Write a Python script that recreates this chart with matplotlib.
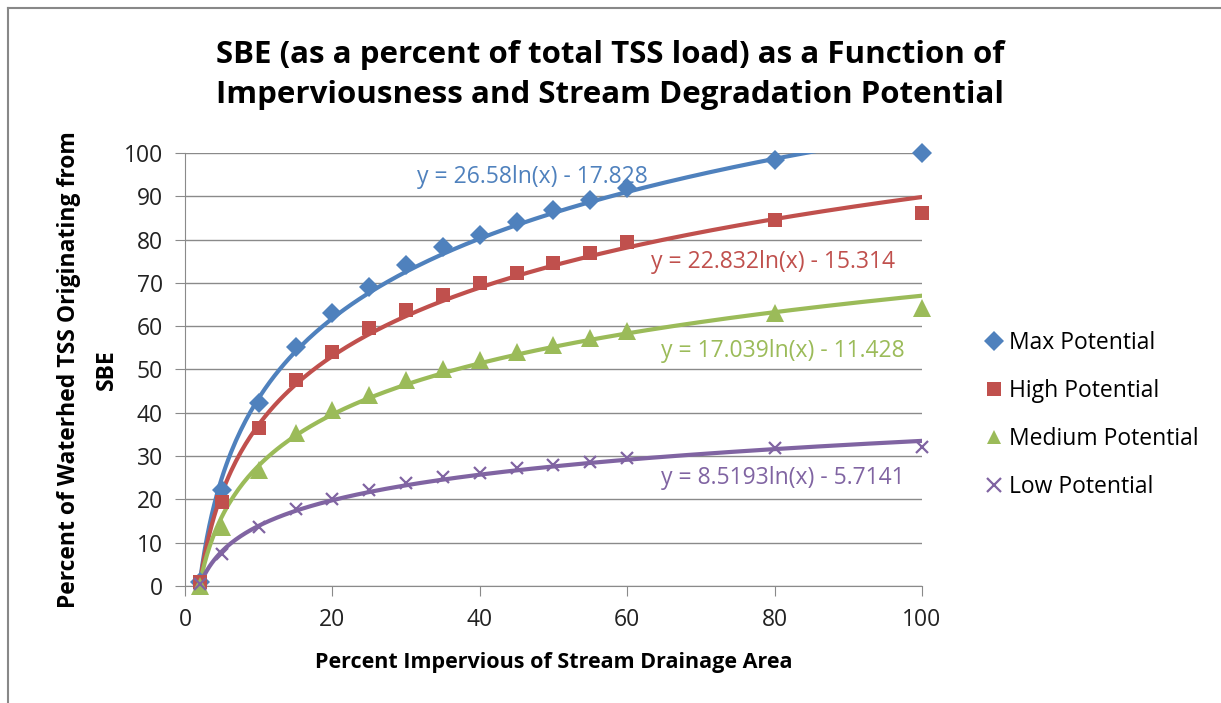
import numpy as np
import matplotlib
matplotlib.use("Agg")
import matplotlib.pyplot as plt
from matplotlib.lines import Line2D

plt.rcParams['font.family'] = ['Open Sans', 'DejaVu Sans']

# percent impervious
x = [2, 5, 10, 15, 20, 25, 30, 35, 40, 45, 50, 55, 60, 80, 100]
max_pot = [1, 22.2, 42.2, 55.3, 63, 69.1, 74.1, 78.2, 81.1, 84.1, 86.8, 89.1, 91.8, 98.4, 100]
high_pot = [1, 19.5, 36.4, 47.6, 54.1, 59.5, 63.7, 67.2, 69.9, 72.2, 74.5, 76.8, 79.5, 84.5, 86.1]
med_pot = [0, 13.7, 26.8, 35.3, 40.6, 44.1, 47.6, 50, 52.2, 54.1, 55.7, 57.2, 58.9, 63, 64.3]
low_pot = [0.5, 7.5, 13.7, 17.9, 20.2, 22.2, 23.7, 25.2, 26, 27.2, 27.9, 28.7, 29.6, 31.8, 32.2]

names = ["Max Potential", "High Potential", "Medium Potential", "Low Potential"]
# trendline coefficients y = a*ln(x) + b, as printed on chart
coef_a = [26.58, 22.832, 17.039, 8.5193]
coef_b = [-17.828, -15.314, -11.428, -5.7141]
eq_text = ["y = 26.58ln(x) - 17.828", "y = 22.832ln(x) - 15.314",
           "y = 17.039ln(x) - 11.428", "y = 8.5193ln(x) - 5.7141"]

colors = ["#4F81BD", "#C0504D", "#9BBB59", "#8064A2"]
markers = ["D", "s", "^", "x"]
msizes = [10.5, 10.5, 12.5, 9]

fig = plt.figure(figsize=(12.21, 7.03), dpi=100)
ax = fig.add_axes([0.1515, 0.1664, 0.6036, 0.616])

xs = np.linspace(2, 100, 300)
series = [max_pot, high_pot, med_pot, low_pot]
for i in range(4):
    ax.plot(xs, coef_a[i] * np.log(xs) + coef_b[i], color=colors[i], lw=3, zorder=3)
    ax.plot(x, series[i], linestyle="none", marker=markers[i], ms=msizes[i],
            color=colors[i], mew=1.6 if markers[i] == "x" else 0, clip_on=False,
            zorder=4, label=names[i])

# equation labels
eq_pos = [(47.1, 94.5), (79.8, 74.8), (81.1, 54.3), (81.1, 25.0)]
for i in range(4):
    ax.text(eq_pos[i][0], eq_pos[i][1], eq_text[i], color=colors[i], fontsize=16.5,
            ha="center", va="center", zorder=5)

ax.set_xlim(0, 100)
ax.set_ylim(0, 100)
ax.set_xticks([0, 20, 40, 60, 80, 100])
ax.set_yticks(range(0, 101, 10))
ax.yaxis.grid(True, color="#8a8a8a", lw=1)
ax.set_axisbelow(True)
for s in ["top", "right"]:
    ax.spines[s].set_visible(False)
for s in ["left", "bottom"]:
    ax.spines[s].set_color("#8a8a8a")
ax.tick_params(axis="both", colors="#8a8a8a", labelcolor="#222222", labelsize=16.5,
               length=7, direction="out")
ax.tick_params(axis="x", pad=9)
ax.tick_params(axis="y", pad=9)

ax.set_xlabel("Percent Impervious of Stream Drainage Area", fontsize=15.5,
              fontweight="bold", labelpad=14)
ax.set_ylabel("Percent of Waterhed TSS Originating from\nSBE", fontsize=16.5,
              fontweight="bold", labelpad=3, linespacing=1.8)

fig.text(0.5, 0.893, "SBE (as a percent of total TSS load) as a Function of\n"
         "Imperviousness and Stream Degradation Potential",
         ha="center", va="center", fontsize=22.5, fontweight="bold", linespacing=1.45)

leg = ax.legend(loc="center left", bbox_to_anchor=(1.07, 0.394), frameon=False,
                fontsize=16.5, handletextpad=0.15, labelspacing=1.05,
                handlelength=1.0, borderaxespad=0)
for h in leg.legend_handles:
    h.set_markersize(10)

# outer frame (top and left)
fig.add_artist(Line2D([0.0066, 0.0066], [0, 0.989], color="#888888", lw=1.5))
fig.add_artist(Line2D([0.0066, 1.0], [0.989, 0.989], color="#888888", lw=1.5))

fig.savefig("out.png", dpi=100)
